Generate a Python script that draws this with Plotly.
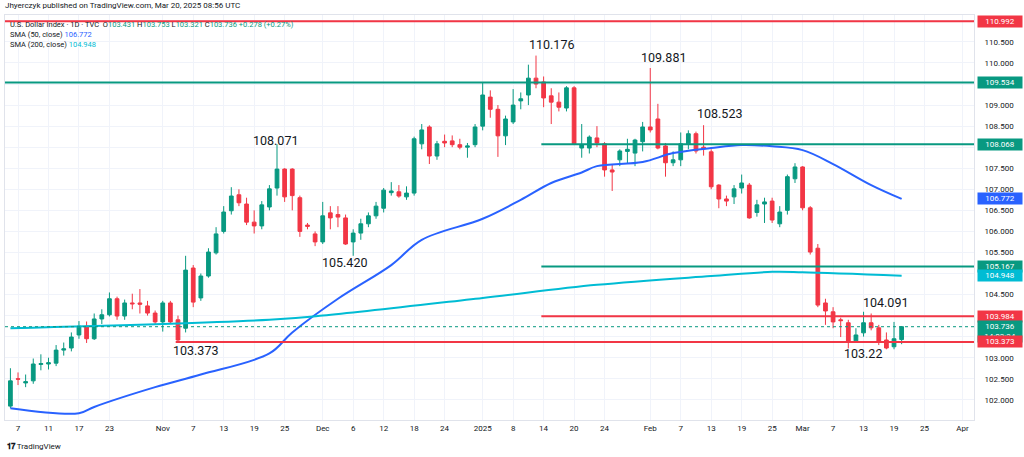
import pandas as pd
import plotly.graph_objects as go

opens = [101.85,102.5,102.4,102.45,102.84,102.85,102.87,103.18,103.23,103.54,103.75,103.45,103.92,104.02,104.4,103.99,104.3,104.3,104.23,104.06,
 103.85,104.3,103.9,103.7,105.13,104.42,104.94,105.49,106.0,106.49,106.87,106.65,106.22,106.13,106.58,107.03,107.48,107.48,106.8,106.15,105.94,
 105.75,106.44,106.4,106.32,105.75,105.96,106.18,106.37,106.55,106.92,106.94,106.82,106.91,108.08,108.48,107.79,108.14,108.15,108.06,108.0,108.06,
 108.5,109.19,108.9,108.27,108.6,109.1,109.24,109.64,109.55,109.22,109.07,108.93,109.41,107.98,107.98,108.22,108.08,107.46,107.7,107.9,107.86,108.13,
 108.48,108.67,108.03,107.63,107.7,108.08,108.32,108.0,107.89,107.1,106.77,106.82,107.03,107.1,106.45,106.65,106.72,106.18,106.5,107.25,
 107.53,106.56,105.6,104.3,104.09,103.9,103.83,103.4,103.59,103.83,103.71,103.42,103.26,103.431]
highs = [102.75,102.65,102.6,102.98,103.08,103.0,103.3,103.36,103.6,103.87,103.86,104.05,104.15,104.55,104.45,104.38,104.52,104.63,104.35,104.12,
 104.35,104.35,104.0,105.42,105.2,105.0,105.6,106.1,106.6,107.05,107.0,106.8,106.5,106.72,107.1,108.071,107.5,107.5,106.85,106.2,106.0,
 106.7,106.6,106.6,106.4,106.05,106.3,106.45,106.7,107.03,107.17,107.1,107.07,108.25,108.55,108.52,108.15,108.3,108.28,108.2,108.1,108.55,
 109.53,109.35,109.0,108.75,109.38,109.3,109.96,110.176,109.68,109.4,109.3,109.45,109.45,108.55,108.28,108.5,108.12,107.6,107.95,108.2,108.2,108.6,
 109.881,109.03,108.1,107.9,108.35,108.4,108.37,108.523,107.95,107.12,106.85,107.1,107.35,107.15,106.75,106.8,106.8,106.6,107.35,107.62,
 107.55,106.6,105.7,104.4,104.2,103.95,103.9,103.7,104.091,104.05,103.78,103.6,103.85,103.753]
lows = [101.8,102.35,102.3,102.38,102.7,102.72,102.8,103.05,103.15,103.45,103.35,103.42,103.8,103.98,103.9,103.9,104.15,104.05,104.0,103.8,
 103.62,103.8,103.373,103.6,104.2,104.35,104.9,105.45,105.95,106.4,106.6,106.15,105.95,106.05,106.5,106.85,106.7,106.5,105.87,106.05,105.65,
 105.7,106.05,106.1,105.68,105.42,105.8,106.1,106.3,106.45,106.85,106.8,106.75,106.85,107.95,107.6,107.7,108.0,108.0,107.95,107.75,108.0,
 108.4,108.7,107.77,108.05,108.55,108.9,109.0,109.4,108.95,108.55,108.85,108.85,108.05,107.75,107.85,108.0,107.3,106.96,107.55,107.6,107.55,107.9,
 108.35,107.95,107.3,107.55,107.55,107.95,107.85,107.8,107.0,106.55,106.6,106.65,106.9,106.3,106.35,106.2,106.2,106.1,106.4,107.15,
 106.5,105.45,104.2,103.78,103.7,103.49,103.22,103.35,103.5,103.65,103.3,103.2,103.2,103.321]
closes = [102.45,102.49,102.43,102.85,102.86,102.88,103.18,103.21,103.49,103.75,103.45,103.92,104.02,104.4,103.99,104.3,104.28,104.27,104.06,103.85,
 104.3,103.85,103.42,105.08,104.32,104.94,105.51,105.94,106.46,106.84,106.68,106.22,106.13,106.63,107.01,107.48,106.82,106.85,106.0,106.12,105.75,
 106.37,106.32,106.34,105.7,105.96,106.18,106.37,106.6,106.98,106.96,106.84,106.91,108.2,108.41,107.79,108.08,108.1,108.06,108.0,108.03,108.48,
 109.24,108.9,108.27,108.67,109.0,109.15,109.64,109.5,109.17,109.07,108.95,109.41,108.08,108.05,108.24,108.1,107.46,107.41,107.91,107.95,108.17,108.48,
 108.41,107.98,107.63,107.7,108.08,108.32,107.91,107.96,107.06,106.77,106.72,107.01,107.15,106.32,106.63,106.7,106.27,106.46,107.3,107.53,
 106.56,105.51,104.25,104.11,103.85,103.88,103.37,103.54,103.83,103.71,103.37,103.23,103.45,103.736]

sma50_dates = ["2024-10-04","2024-10-17","2024-10-21","2024-10-31","2024-11-08","2024-11-21","2024-11-26","2024-12-04","2024-12-13","2024-12-19",
 "2025-01-02","2025-01-09","2025-01-15","2025-01-21","2025-01-23","2025-01-31","2025-02-06","2025-02-13","2025-02-19","2025-02-25",
 "2025-03-03","2025-03-07","2025-03-14","2025-03-20"]
sma50_vals = [101.8,101.68,101.83,102.3,102.6,103.1,103.6,104.4,105.2,105.8,106.3,106.75,107.15,107.4,107.55,107.65,107.86,107.98,108.05,108.02,
 107.93,107.6,107.1,106.772]
sma200_dates = ["2024-10-04","2024-11-21","2024-12-02","2025-01-02","2025-01-23","2025-02-13","2025-02-25","2025-03-03","2025-03-20"]
sma200_vals = [103.7,103.9,104.0,104.42,104.73,104.94,105.04,105.03,104.948]

tick_dates = ["2024-10-07","2024-10-11","2024-10-17","2024-10-23","2024-11-01","2024-11-07","2024-11-13","2024-11-19","2024-11-25",
 "2024-12-02","2024-12-06","2024-12-12","2024-12-18","2024-12-24","2025-01-02","2025-01-08","2025-01-14","2025-01-20","2025-01-24",
 "2025-02-03","2025-02-07","2025-02-13","2025-02-19","2025-02-25","2025-03-03","2025-03-07","2025-03-13","2025-03-19","2025-03-25","2025-04-01"]
tick_text = ["7","11","17","23","Nov","7","13","19","25","Dec","6","12","18","24","2025","8","14","20","24",
 "Feb","7","13","19","25","Mar","7","13","19","25","Apr"]

levels_full = [(110.992, "#F23645"), (109.534, "#089981")]
levels_part = [(108.068, "#089981", "2025-01-14"), (105.167, "#089981", "2025-01-14"),
               (103.984, "#F23645", "2025-01-14"), (103.373, "#F23645", "2024-11-05")]

days = pd.bdate_range("2024-10-04", "2025-04-04")
days = days[~days.isin(pd.to_datetime(["2024-12-25", "2025-01-01"]))]
pos = {d.strftime("%Y-%m-%d"): i for i, d in enumerate(days)}
n = len(closes)
x = list(range(n))

GREEN, RED = "#089981", "#F23645"
fig = go.Figure()
fig.add_trace(go.Candlestick(x=x, open=opens, high=highs, low=lows, close=closes,
    increasing=dict(line=dict(color=GREEN, width=1), fillcolor=GREEN),
    decreasing=dict(line=dict(color=RED, width=1), fillcolor=RED),
    whiskerwidth=0, showlegend=False, hoverinfo="skip"))
fig.add_trace(go.Scatter(x=[pos[d] for d in sma50_dates], y=sma50_vals, mode="lines",
    line=dict(color="#2962FF", width=2, shape="spline"), showlegend=False))
fig.add_trace(go.Scatter(x=[pos[d] for d in sma200_dates], y=sma200_vals, mode="lines",
    line=dict(color="#00BCD4", width=2, shape="spline"), showlegend=False))

shapes = []
for v, c in levels_full:
    shapes.append(dict(type="line", xref="paper", x0=0, x1=1, y0=v, y1=v, line=dict(color=c, width=2)))
for v, c, d in levels_part:
    shapes.append(dict(type="line", xref="x", x0=pos[d] - 0.3, x1=200, y0=v, y1=v, line=dict(color=c, width=2)))
shapes.append(dict(type="line", xref="paper", x0=0, x1=1, y0=closes[-1], y1=closes[-1],
                   line=dict(color=GREEN, width=1, dash="dot")))

ann = []
labels = [(71.0, 110.43, "110.176"), (85.8, 110.14, "109.881"), (93.1, 108.79, "108.523"), (34.8, 108.15, "108.071"),
          (43.8, 105.27, "105.420"), (24.3, 103.18, "103.373"), (114.9, 104.32, "104.091"), (111.9, 103.09, "103.22")]
for xx, yy, t in labels:
    ann.append(dict(x=xx, y=yy, text=t, showarrow=False, font=dict(size=12.5, color="#131722")))

boxes = [(110.992, "110.992", RED), (109.534, "109.534", GREEN), (108.068, "108.068", GREEN), (106.772, "106.772", "#2962FF"),
         (105.167, "105.167", GREEN), (104.948, "104.948", "#00BCD4"), (103.984, "103.984", RED),
         (103.62, "103.736<br>14:03:34", GREEN), (103.373, "103.373", RED)]
for v, t, c in boxes:
    ann.append(dict(xref="paper", x=1, xanchor="left", xshift=3, y=v, yref="y", text=t, showarrow=False,
                    bgcolor=c, font=dict(size=8, color="white"), borderpad=1, width=42))

ann.append(dict(xref="paper", yref="paper", x=0, y=1, xshift=-2, yshift=3, xanchor="left", yanchor="bottom",
                text="Jhyerczyk published on TradingView.com, Mar 20, 2025 08:56 UTC", showarrow=False,
                font=dict(size=8, color="#131722")))
ann.append(dict(xref="paper", yref="paper", x=0, y=1, xshift=3, yshift=-3, xanchor="left", yanchor="top", align="left",
                text="U.S. Dollar Index · 1D · TVC  O<span style='color:#089981'>103.431</span> H<span style='color:#089981'>103.753</span> "
                     "L<span style='color:#089981'>103.321</span> C<span style='color:#089981'>103.736 +0.278 (+0.27%)</span>"
                     "<br>SMA (50, close) <span style='color:#2962FF'>106.772</span>"
                     "<br>SMA (200, close) <span style='color:#00BCD4'>104.948</span>",
                showarrow=False, font=dict(size=7.5, color="#131722")))
ann.append(dict(xref="paper", yref="paper", x=0, y=0, yshift=-20, xanchor="left", yanchor="top",
                text="<b>𝟏𝟕</b> TradingView", showarrow=False, font=dict(size=8, color="#131722")))

fig.update_layout(width=1024, height=457, margin=dict(l=5, r=50, t=15, b=37),
    paper_bgcolor="white", plot_bgcolor="white", font=dict(family="Roboto, Noto Sans", color="#131722"),
    shapes=shapes, annotations=ann, hovermode=False,
    xaxis=dict(range=[-0.71, 126.5], tickvals=[pos[d] for d in tick_dates], ticktext=tick_text,
               showgrid=True, gridcolor="#f0f3fa", zeroline=False, rangeslider=dict(visible=False),
               tickfont=dict(size=8), ticks="", showline=True, linecolor="#e0e3eb", mirror=True),
    yaxis=dict(side="right", range=[101.52, 111.14], dtick=0.5, tickformat=".3f", showgrid=True,
               gridcolor="#f0f3fa", zeroline=False, tickfont=dict(size=8), ticks="", ticklabelstandoff=8,
               showline=True, linecolor="#e0e3eb", mirror=True))
fig.write_html("out.html", config={"displayModeBar": False},
               post_script="document.body.style.margin='0';document.body.style.overflow='hidden';")
